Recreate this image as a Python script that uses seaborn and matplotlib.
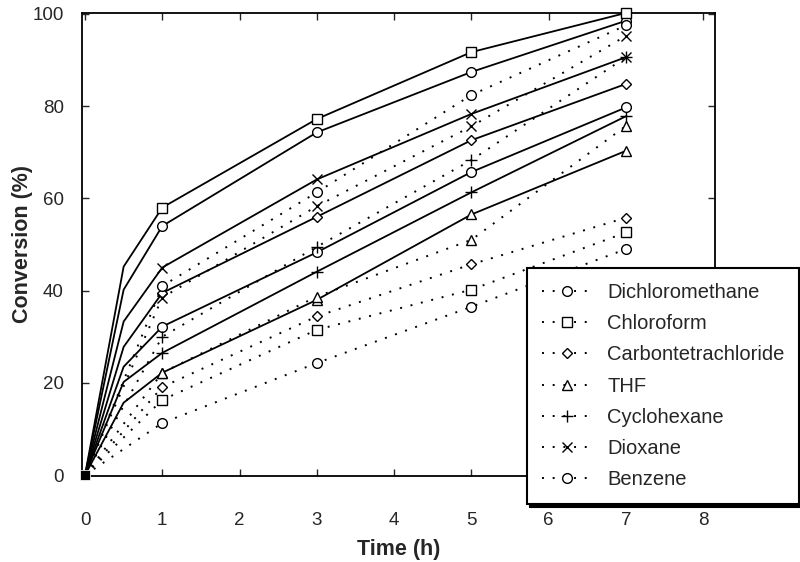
import numpy as np
import matplotlib.pyplot as plt
import pandas as pd
import seaborn as sns

# time points (h)
time_solid = [0, 0.5, 1, 3, 5, 7]
time_dotted = [0, 1, 3, 5, 7]

solvents = ['Dichloromethane', 'Chloroform', 'Carbontetrachloride', 'THF',
            'Cyclohexane', 'Dioxane', 'Benzene']

# conversion (%) - solid curves
dcm_solid = [0, 40.2, 54.0, 74.3, 87.4, 98.5]
chcl3_solid = [0, 45.2, 58.0, 77.2, 91.7, 100.2]
ccl4_solid = [0, 27.8, 39.5, 56.0, 72.6, 84.8]
thf_solid = [0, 15.7, 22.2, 38.0, 56.5, 70.3]
chex_solid = [0, 20.2, 26.5, 44.1, 61.3, 77.8]
diox_solid = [0, 33.3, 45.0, 64.1, 78.3, 90.6]
benz_solid = [0, 23.5, 32.2, 48.3, 65.7, 79.7]

# conversion (%) - dotted curves
dcm_dotted = [0, 41.0, 61.3, 82.4, 97.5]
chcl3_dotted = [0, 16.3, 31.5, 40.2, 52.6]
ccl4_dotted = [0, 19.1, 34.4, 45.7, 55.8]
thf_dotted = [0, 22.2, 38.7, 51.0, 75.7]
chex_dotted = [0, 30.0, 49.5, 68.3, 90.6]
diox_dotted = [0, 38.5, 58.3, 75.6, 95.2]
benz_dotted = [0, 11.3, 24.3, 36.5, 49.0]

solid_sets = [dcm_solid, chcl3_solid, ccl4_solid, thf_solid, chex_solid, diox_solid, benz_solid]
dotted_sets = [dcm_dotted, chcl3_dotted, ccl4_dotted, thf_dotted, chex_dotted, diox_dotted, benz_dotted]

marker_of = {'Dichloromethane': 'o', 'Chloroform': 's', 'Carbontetrachloride': 'D',
             'THF': '^', 'Cyclohexane': '+', 'Dioxane': 'x', 'Benzene': 'o'}
msize_of = {'Dichloromethane': 7, 'Chloroform': 7, 'Carbontetrachloride': 5.5,
            'THF': 7, 'Cyclohexane': 8, 'Dioxane': 7, 'Benzene': 7}

sns.set_style('ticks')
plt.rcParams['font.family'] = ['Liberation Sans', 'DejaVu Sans']

fig = plt.figure(figsize=(8, 5.62), dpi=100)
ax = fig.add_axes([0.1025, 0.153, 0.791, 0.824])

# solid curves
for name, vals in zip(solvents, solid_sets):
    sns.lineplot(x=time_solid, y=vals, ax=ax, color='black', linewidth=1.3,
                 marker=marker_of[name], markersize=msize_of[name],
                 markerfacecolor='white', markeredgecolor='black', markeredgewidth=1,
                 markevery=[2, 3, 4, 5], clip_on=False, zorder=3)

# dotted curves (these go in the legend)
handles = []
for name, vals in zip(solvents, dotted_sets):
    sns.lineplot(x=time_dotted, y=vals, ax=ax, color='black', linewidth=1.4,
                 linestyle=(0, (1, 4.5)),
                 marker=marker_of[name], markersize=msize_of[name],
                 markerfacecolor='white', markeredgecolor='black', markeredgewidth=1,
                 markevery=[1, 2, 3, 4], clip_on=False, zorder=3)
    handles.append(ax.lines[-1])

# common starting point
sns.scatterplot(x=[0], y=[0], ax=ax, marker='s', color='black', s=45,
                clip_on=False, zorder=6, legend=False)

ax.set_xlim(-0.039, 8.15)
ax.set_ylim(-0.2, 100.2)
ax.set_xticks(range(0, 9))
ax.set_yticks(range(0, 101, 20))
ax.tick_params(direction='in', top=True, right=True, length=5, width=1, labelsize=13.5)
ax.tick_params(axis='x', pad=26)
ax.tick_params(axis='y', pad=13)
for sp in ax.spines.values():
    sp.set_linewidth(1.3)
    sp.set_color('black')

ax.set_xlabel('Time (h)', fontsize=15.5, fontweight='bold')
ax.set_ylabel('Conversion (%)', fontsize=15.5, fontweight='bold')
ax.xaxis.set_label_coords(0.5, -0.135)
ax.yaxis.set_label_coords(-0.077, 0.5)

leg = fig.legend(handles, solvents, loc='upper left', bbox_to_anchor=(0.659, 0.523),
                 fontsize=14.5, frameon=True, fancybox=False,
                 shadow={'color': 'black', 'alpha': 1},
                 handlelength=2.5, handletextpad=0.75, labelspacing=0.61,
                 borderpad=0.73, borderaxespad=0)
leg.get_frame().set_edgecolor('black')
leg.get_frame().set_linewidth(1.5)
leg.get_frame().set_facecolor('white')
leg.get_frame().set_alpha(1)

fig.savefig('out.png', dpi=100)
